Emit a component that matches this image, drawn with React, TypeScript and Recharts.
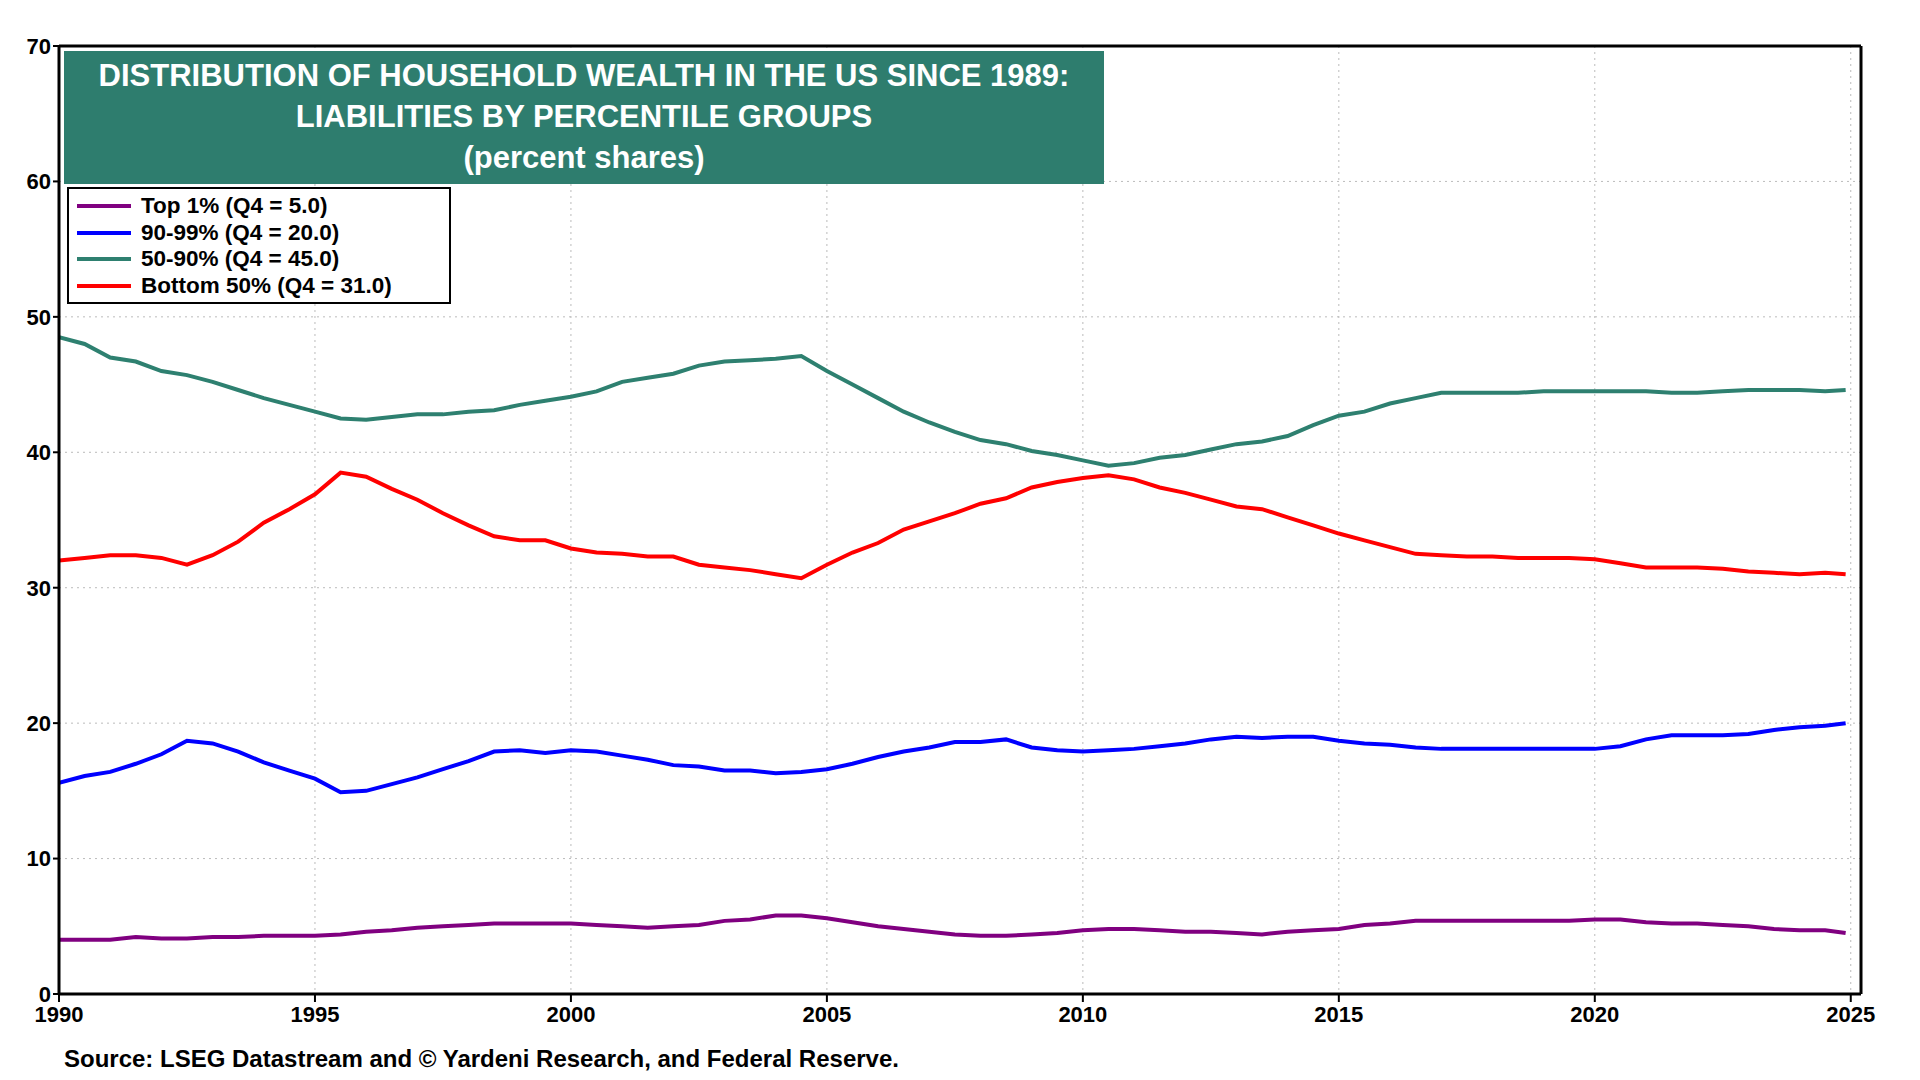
import { LineChart, Line, XAxis, YAxis, CartesianGrid, ReferenceLine } from 'recharts';

const years = [
  1990, 1990.5, 1991, 1991.5, 1992, 1992.5, 1993, 1993.5, 1994, 1994.5, 1995, 1995.5, 1996, 1996.5,
  1997, 1997.5, 1998, 1998.5, 1999, 1999.5, 2000, 2000.5, 2001, 2001.5, 2002, 2002.5, 2003, 2003.5,
  2004, 2004.5, 2005, 2005.5, 2006, 2006.5, 2007, 2007.5, 2008, 2008.5, 2009, 2009.5, 2010, 2010.5,
  2011, 2011.5, 2012, 2012.5, 2013, 2013.5, 2014, 2014.5, 2015, 2015.5, 2016, 2016.5, 2017, 2017.5,
  2018, 2018.5, 2019, 2019.5, 2020, 2020.5, 2021, 2021.5, 2022, 2022.5, 2023, 2023.5, 2024, 2024.5, 2024.9,
];

const top1 = [
  4, 4, 4, 4.2, 4.1, 4.1, 4.2, 4.2, 4.3, 4.3, 4.3, 4.4, 4.6, 4.7, 4.9, 5, 5.1, 5.2, 5.2, 5.2, 5.2, 5.1,
  5, 4.9, 5, 5.1, 5.4, 5.5, 5.8, 5.8, 5.6, 5.3, 5, 4.8, 4.6, 4.4, 4.3, 4.3, 4.4, 4.5, 4.7, 4.8, 4.8, 4.7,
  4.6, 4.6, 4.5, 4.4, 4.6, 4.7, 4.8, 5.1, 5.2, 5.4, 5.4, 5.4, 5.4, 5.4, 5.4, 5.4, 5.5, 5.5, 5.3, 5.2,
  5.2, 5.1, 5, 4.8, 4.7, 4.7, 4.5,
];

const p90to99 = [
  15.6, 16.1, 16.4, 17, 17.7, 18.7, 18.5, 17.9, 17.1, 16.5, 15.9, 14.9, 15, 15.5, 16, 16.6, 17.2, 17.9,
  18, 17.8, 18, 17.9, 17.6, 17.3, 16.9, 16.8, 16.5, 16.5, 16.3, 16.4, 16.6, 17, 17.5, 17.9, 18.2, 18.6,
  18.6, 18.8, 18.2, 18, 17.9, 18, 18.1, 18.3, 18.5, 18.8, 19, 18.9, 19, 19, 18.7, 18.5, 18.4, 18.2,
  18.1, 18.1, 18.1, 18.1, 18.1, 18.1, 18.1, 18.3, 18.8, 19.1, 19.1, 19.1, 19.2, 19.5, 19.7, 19.8, 20,
];

const p50to90 = [
  48.5, 48, 47, 46.7, 46, 45.7, 45.2, 44.6, 44, 43.5, 43, 42.5, 42.4, 42.6, 42.8, 42.8, 43, 43.1, 43.5,
  43.8, 44.1, 44.5, 45.2, 45.5, 45.8, 46.4, 46.7, 46.8, 46.9, 47.1, 46, 45, 44, 43, 42.2, 41.5, 40.9,
  40.6, 40.1, 39.8, 39.4, 39, 39.2, 39.6, 39.8, 40.2, 40.6, 40.8, 41.2, 42, 42.7, 43, 43.6, 44, 44.4,
  44.4, 44.4, 44.4, 44.5, 44.5, 44.5, 44.5, 44.5, 44.4, 44.4, 44.5, 44.6, 44.6, 44.6, 44.5, 44.6,
];

const bottom50 = [
  32, 32.2, 32.4, 32.4, 32.2, 31.7, 32.4, 33.4, 34.8, 35.8, 36.9, 38.5, 38.2, 37.3, 36.5, 35.5, 34.6,
  33.8, 33.5, 33.5, 32.9, 32.6, 32.5, 32.3, 32.3, 31.7, 31.5, 31.3, 31, 30.7, 31.7, 32.6, 33.3, 34.3,
  34.9, 35.5, 36.2, 36.6, 37.4, 37.8, 38.1, 38.3, 38, 37.4, 37, 36.5, 36, 35.8, 35.2, 34.6, 34, 33.5,
  33, 32.5, 32.4, 32.3, 32.3, 32.2, 32.2, 32.2, 32.1, 31.8, 31.5, 31.5, 31.5, 31.4, 31.2, 31.1, 31,
  31.1, 31,
];

const yTicks = [0, 10, 20, 30, 40, 50, 60, 70];
const xTicks = [1990, 1995, 2000, 2005, 2010, 2015, 2020, 2025];

const series = [
  { key: 'top1', name: 'Top 1% (Q4 = 5.0)', color: '#800080', values: top1 },
  { key: 'p90', name: '90-99% (Q4 = 20.0)', color: '#0000FF', values: p90to99 },
  { key: 'p50', name: '50-90% (Q4 = 45.0)', color: '#2E8070', values: p50to90 },
  { key: 'bottom', name: 'Bottom 50% (Q4 = 31.0)', color: '#FF0000', values: bottom50 },
];

const data = years.map((year, i) => {
  const row: Record<string, number> = { year };
  series.forEach((s) => (row[s.key] = s.values[i]));
  return row;
});

const font = '"Liberation Sans", Arial, sans-serif';
const tickStyle = { fontFamily: font, fontWeight: 700, fontSize: 22, fill: '#000' };

export default function App() {
  return (
    <div style={{ position: 'fixed', left: 0, top: 0, width: 1920, height: 1080, background: '#fff', fontFamily: font }}>
      <LineChart width={1920} height={1080} data={data} margin={{ top: 46, right: 2, bottom: 50, left: 2 }}>
        <CartesianGrid stroke="#bbb" strokeDasharray="2 4" yAxisId="l" />
        <XAxis
          dataKey="year"
          type="number"
          domain={[1990, 2025.2]}
          ticks={xTicks}
          tick={tickStyle}
          tickSize={8}
          tickMargin={4}
          axisLine={{ stroke: '#000', strokeWidth: 3 }}
          tickLine={{ stroke: '#000', strokeWidth: 2 }}
          height={36}
          allowDataOverflow
        />
        <YAxis
          yAxisId="l"
          domain={[0, 70]}
          ticks={yTicks}
          tick={tickStyle}
          width={57}
          tickSize={6}
          axisLine={{ stroke: '#000', strokeWidth: 3 }}
          tickLine={{ stroke: '#000', strokeWidth: 2 }}
        />
        <YAxis
          yAxisId="r"
          orientation="right"
          domain={[0, 70]}
          ticks={yTicks}
          tick={tickStyle}
          width={57}
          tickSize={6}
          axisLine={{ stroke: '#000', strokeWidth: 3 }}
          tickLine={{ stroke: '#000', strokeWidth: 2 }}
        />
        <ReferenceLine yAxisId="l" y={70} stroke="#000" strokeWidth={3} />
        {series.map((s) => (
          <Line
            key={s.key}
            yAxisId="l"
            dataKey={s.key}
            stroke={s.color}
            strokeWidth={4}
            dot={false}
            type="linear"
            isAnimationActive={false}
          />
        ))}
      </LineChart>
      <div
        style={{
          position: 'absolute', left: 64, top: 51, width: 1040, height: 133, background: '#2E7D6E',
          color: '#fff', fontWeight: 700, fontSize: 31, textAlign: 'center', lineHeight: '41px', paddingTop: 4, boxSizing: 'border-box',
        }}
      >
        DISTRIBUTION OF HOUSEHOLD WEALTH IN THE US SINCE 1989:<br />
        LIABILITIES BY PERCENTILE GROUPS<br />
        (percent shares)
      </div>
      <div
        style={{
          position: 'absolute', left: 67, top: 187, width: 384, height: 117, background: '#fff',
          border: '2px solid #000', boxSizing: 'border-box', padding: '4px 8px',
        }}
      >
        {series.map((s) => (
          <div key={s.key} style={{ display: 'flex', alignItems: 'center', height: 26.5, fontWeight: 700, fontSize: 22.5 }}>
            <span style={{ display: 'inline-block', width: 54, height: 4, background: s.color, marginRight: 10 }} />
            {s.name}
          </div>
        ))}
      </div>
      <div style={{ position: 'absolute', left: 64, top: 1045, fontWeight: 700, fontSize: 24 }}>
        Source: LSEG Datastream and © Yardeni Research, and Federal Reserve.
      </div>
    </div>
  );
}
